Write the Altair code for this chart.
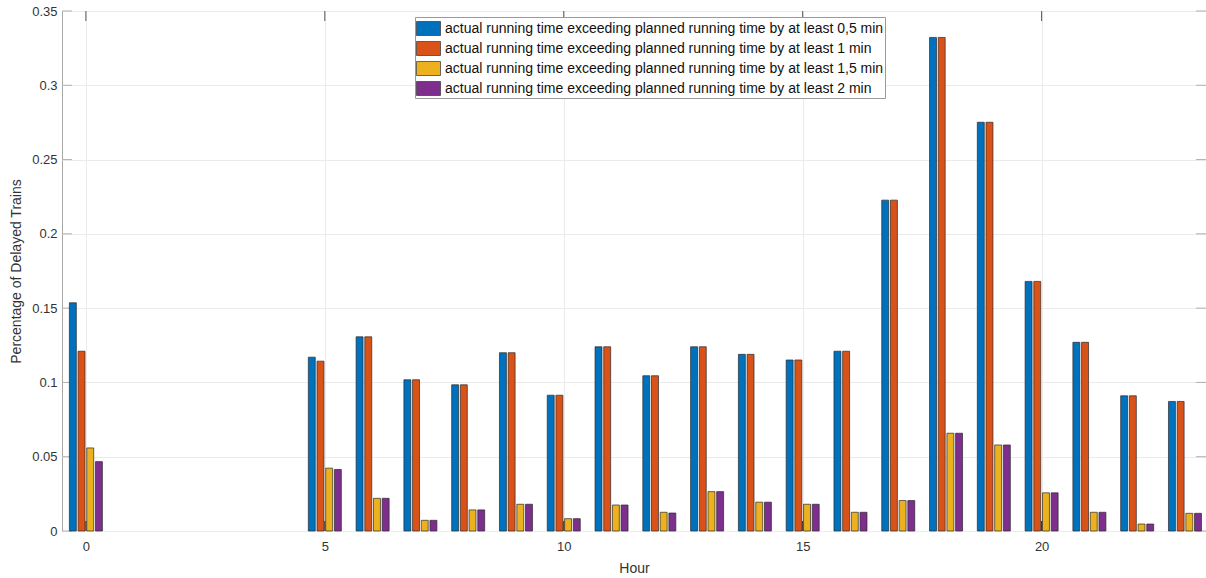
import altair as alt
import pandas as pd

# Hours with recorded traffic
hours = [0, 5, 6, 7, 8, 9, 10, 11, 12, 13, 14, 15, 16, 17, 18, 19, 20, 21, 22, 23]

# Share of delayed trains per delay threshold
delay_05 = [0.1536, 0.1170, 0.1307, 0.1018, 0.0984, 0.1200, 0.0914, 0.1240, 0.1045, 0.1240,
            0.1189, 0.1151, 0.1210, 0.2227, 0.3322, 0.2751, 0.1680, 0.1270, 0.0910, 0.0872]
delay_10 = [0.1210, 0.1143, 0.1307, 0.1018, 0.0984, 0.1200, 0.0914, 0.1240, 0.1045, 0.1240,
            0.1189, 0.1151, 0.1210, 0.2227, 0.3322, 0.2751, 0.1680, 0.1270, 0.0910, 0.0872]
delay_15 = [0.0559, 0.0423, 0.0220, 0.0072, 0.0142, 0.0180, 0.0083, 0.0175, 0.0126, 0.0265,
            0.0194, 0.0180, 0.0126, 0.0205, 0.0658, 0.0579, 0.0257, 0.0126, 0.0047, 0.0119]
delay_20 = [0.0467, 0.0414, 0.0220, 0.0072, 0.0142, 0.0180, 0.0083, 0.0175, 0.0121, 0.0265,
            0.0194, 0.0180, 0.0126, 0.0205, 0.0658, 0.0579, 0.0257, 0.0126, 0.0047, 0.0119]

series_labels = [
    "actual running time exceeding planned running time by at least 0,5 min",
    "actual running time exceeding planned running time by at least 1 min",
    "actual running time exceeding planned running time by at least 1,5 min",
    "actual running time exceeding planned running time by at least 2 min",
]
series_colors = ["#0072BD", "#D95319", "#EDB120", "#7E2F8E"]

x_ticks = [0, 5, 10, 15, 20]
y_ticks = [0, 0.05, 0.1, 0.15, 0.2, 0.25, 0.3, 0.35]

rows = []
for k, (label, vals) in enumerate(zip(series_labels, [delay_05, delay_10, delay_15, delay_20])):
    for h, v in zip(hours, vals):
        rows.append({"hour": h, "series": label, "k": k, "value": v})
df = pd.DataFrame(rows)

W, H = 1144, 520
FONT = "Liberation Sans"
TXT = "#333333"
GRID = "#ebebeb"

x_scale = alt.Scale(domain=[-0.5, 23.44], nice=False, zero=False)
y_scale = alt.Scale(domain=[0, 0.35], nice=False)

# Grouped bars: 4 bars per hour, MATLAB-style offsets
bars = alt.Chart(df).transform_calculate(
    x0="datum.hour + (datum.k - 1.5) * 0.1818 - 0.0727",
    x1="datum.hour + (datum.k - 1.5) * 0.1818 + 0.0727",
).mark_bar(stroke="#2a2a2a", strokeWidth=0.7).encode(
    x=alt.X("x0:Q", scale=x_scale,
            axis=alt.Axis(values=x_ticks, title="Hour", grid=True, gridColor=GRID,
                          domain=False, ticks=False, labelPadding=9, titlePadding=8,
                          labelFontSize=13, titleFontSize=14, labelFont=FONT, titleFont=FONT,
                          labelColor=TXT, titleColor=TXT, titleFontWeight="normal",
                          labelFlush=False)),
    x2="x1:Q",
    y=alt.Y("value:Q", scale=y_scale,
            axis=alt.Axis(values=y_ticks, title="Percentage of Delayed Trains", grid=True,
                          gridColor=GRID, domain=False, ticks=False, labelPadding=5,
                          titlePadding=8, labelFontSize=13, titleFontSize=14,
                          labelFont=FONT, titleFont=FONT, labelColor=TXT, titleColor=TXT,
                          titleFontWeight="normal", labelFlush=False,
                          labelExpr="format(datum.value, '~g')")),
    y2=alt.datum(0),
    color=alt.Color("series:N",
                    scale=alt.Scale(domain=series_labels, range=series_colors),
                    legend=alt.Legend(orient="none", legendX=353, legendY=6, title=None,
                                      labelFontSize=14, labelFont=FONT, labelColor="#111111",
                                      labelLimit=700, labelOffset=6, symbolOffset=2,
                                      symbolType="M-1.2,-0.7H1.2V0.7H-1.2Z", symbolSize=400,
                                      symbolStrokeColor="#333333", symbolStrokeWidth=0.7,
                                      symbolOpacity=1, fillColor="white",
                                      strokeColor="#9a9a9a", padding=1, rowPadding=1)),
)

xt = pd.DataFrame({"t": x_ticks})
yt = pd.DataFrame({"t": y_ticks})

# Inward tick marks on all four sides of the box
ticks_bottom = alt.Chart(xt).mark_rule(color="#262626", strokeWidth=1).encode(
    x=alt.X("t:Q", scale=x_scale), y=alt.value(H), y2=alt.value(H - 10))
ticks_top = alt.Chart(xt).mark_rule(color="#555555", strokeWidth=1).encode(
    x=alt.X("t:Q", scale=x_scale), y=alt.value(0), y2=alt.value(10))
ticks_left = alt.Chart(yt).mark_rule(color="#b0b0b0", strokeWidth=1).encode(
    y=alt.Y("t:Q", scale=y_scale), x=alt.value(0), x2=alt.value(10))
ticks_right = alt.Chart(yt).mark_rule(color="#b0b0b0", strokeWidth=1).encode(
    y=alt.Y("t:Q", scale=y_scale), x=alt.value(W), x2=alt.value(W - 10))

chart = alt.layer(ticks_top, ticks_left, ticks_right, bars, ticks_bottom).properties(
    width=W, height=H,
    autosize="none",
    padding={"left": 62, "top": 11, "right": 0, "bottom": 47},
    background="#ffffff",
).configure_view(stroke="#a8a8a8", strokeWidth=1)

chart.save("out.html", embed_options={"renderer": "svg", "actions": False})
